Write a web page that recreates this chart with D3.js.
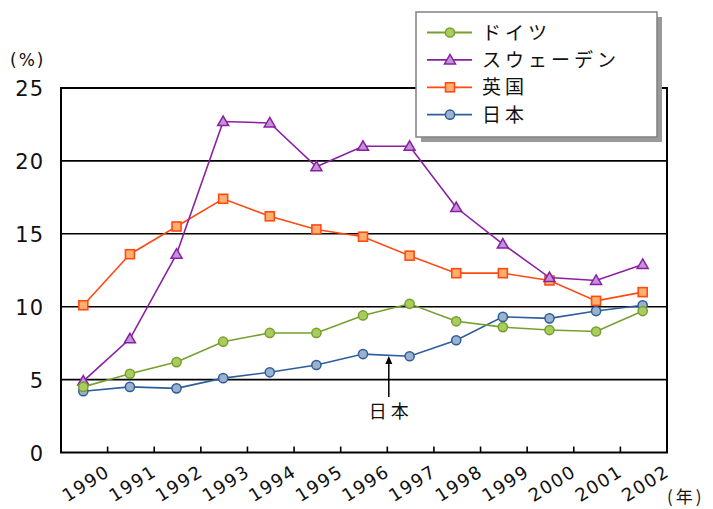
<!DOCTYPE html>
<html><head><meta charset="utf-8">
<script src="https://cdn.jsdelivr.net/npm/d3@7"></script>
<style>
html,body{margin:0;padding:0;background:#fff;}
svg{display:block;}
text{font-family:"DejaVu Sans","Noto Sans CJK JP",sans-serif;fill:#111;}
</style></head>
<body>
<svg id="chart" width="713" height="509"></svg>
<script>
const years = ["1990","1991","1992","1993","1994","1995","1996","1997","1998","1999","2000","2001","2002"];
const germany = [4.5,5.4,6.2,7.6,8.2,8.2,9.4,10.2,9.0,8.6,8.4,8.3,9.7];
const sweden  = [4.9,7.8,13.6,22.7,22.6,19.6,21.0,21.0,16.8,14.3,12.0,11.8,12.9];
const uk      = [10.1,13.6,15.5,17.4,16.2,15.3,14.8,13.5,12.3,12.3,11.8,10.4,11.0];
const japan   = [4.2,4.5,4.4,5.1,5.5,6.0,6.75,6.6,7.7,9.3,9.2,9.7,10.1];
const seriesNames = ["ドイツ","スウェーデン","英国","日本"];
const yTicks = [0,5,10,15,20,25];
const annotationText = "日本";

const series = [
  {name:seriesNames[0], values:germany, stroke:"#76a02e", fill:"#a9cc5e", shape:"circle"},
  {name:seriesNames[1], values:sweden,  stroke:"#8a1fa3", fill:"#c393da", shape:"triangle"},
  {name:seriesNames[2], values:uk,      stroke:"#ff4a12", fill:"#ffb070", shape:"square"},
  {name:seriesNames[3], values:japan,   stroke:"#2c5d9c", fill:"#9cb2cc", shape:"circle"}
];

const L=61, R=667, T=88, B=452.5;
const svg = d3.select("#chart");
const x = d3.scaleBand().domain(years).range([L,R]).padding(0);
const y = d3.scaleLinear().domain([0,25]).range([B,T]);
const cx = d => x(d) + x.bandwidth()/2 - 1;

// gridlines
svg.append("g").selectAll("line").data(yTicks.filter(v=>v>0 && v<25)).join("line")
  .attr("x1",L).attr("x2",R).attr("y1",d=>y(d)).attr("y2",d=>y(d))
  .attr("stroke","#000").attr("stroke-width",1.6);

// plot border
svg.append("rect").attr("x",L).attr("y",T).attr("width",R-L).attr("height",B-T)
  .attr("fill","none").attr("stroke","#000").attr("stroke-width",2);

// x ticks (inward) at category boundaries
svg.append("g").selectAll("line").data(years.slice(1)).join("line")
  .attr("x1",d=>x(d)).attr("x2",d=>x(d)).attr("y1",B).attr("y2",B-6)
  .attr("stroke","#000").attr("stroke-width",1.6);

// y labels
svg.append("g").selectAll("text").data(yTicks).join("text")
  .attr("x",44).attr("y",d=>y(d)+8).attr("text-anchor","end")
  .attr("font-size",21).attr("letter-spacing",1).text(d=>d);
svg.append("text").attr("x",10).attr("y",66).attr("font-size",17).attr("letter-spacing",2).text("(%)");

// x labels
svg.append("g").selectAll("text").data(years).join("text")
  .attr("transform",d=>`translate(${cx(d)+28},${475}) rotate(-32)`)
  .attr("text-anchor","end").attr("font-size",18).attr("letter-spacing",1.5).text(d=>d);
svg.append("text").attr("x",667).attr("y",503).attr("font-size",17).attr("letter-spacing",3)
  .style("font-family","'Noto Sans CJK JP',sans-serif").text("(年)");

function drawMarker(g, shape, px, py, s){
  if(shape==="circle"){
    g.append("circle").attr("cx",px).attr("cy",py).attr("r",4.6)
      .attr("fill",s.fill).attr("stroke",s.stroke).attr("stroke-width",1.5);
  } else if(shape==="square"){
    g.append("rect").attr("x",px-4.5).attr("y",py-4.5).attr("width",9).attr("height",9)
      .attr("fill",s.fill).attr("stroke",s.stroke).attr("stroke-width",1.6);
  } else {
    g.append("path").attr("d",`M${px},${py-5.5}L${px+5.5},${py+4}L${px-5.5},${py+4}Z`)
      .attr("fill",s.fill).attr("stroke",s.stroke).attr("stroke-width",1.5);
  }
}

const line = d3.line().x((d,i)=>cx(years[i])).y(d=>y(d));
// draw order: UK, Sweden, Japan, Germany
[2,1,3,0].forEach(k=>{
  const s = series[k];
  const g = svg.append("g");
  g.append("path").datum(s.values).attr("d",line).attr("fill","none")
    .attr("stroke",s.stroke).attr("stroke-width",1.6);
  s.values.forEach((v,i)=>drawMarker(g,s.shape,cx(years[i]),y(v),s));
});

// annotation
const ax = x("1997") + 1.5;
svg.append("line").attr("x1",ax).attr("x2",ax).attr("y1",397).attr("y2",362)
  .attr("stroke","#000").attr("stroke-width",1.5);
svg.append("path").attr("d",`M${ax},${356}L${ax+3.5},${364}L${ax-3.5},${364}Z`).attr("fill","#000");
svg.append("text").attr("x",ax+2).attr("y",418).attr("text-anchor","middle")
  .attr("font-size",18).attr("letter-spacing",4)
  .style("font-family","'Noto Sans CJK JP',sans-serif").text(annotationText);

// legend
const lg = svg.append("g");
lg.append("rect").attr("x",421).attr("y",17).attr("width",241).attr("height",125).attr("fill","#9a9a9a");
lg.append("rect").attr("x",416).attr("y",12).attr("width",241).attr("height",125)
  .attr("fill","#fff").attr("stroke","#808080").attr("stroke-width",1.5);
series.forEach((s,i)=>{
  const yy = 32.5 + i*27.4;
  lg.append("line").attr("x1",427).attr("x2",472).attr("y1",yy).attr("y2",yy)
    .attr("stroke",s.stroke).attr("stroke-width",1.8);
  drawMarker(lg,s.shape,450,yy,s);
  lg.append("text").attr("x",482).attr("y",yy+7).attr("font-size",19)
    .attr("letter-spacing",4)
    .style("font-family","'Noto Sans CJK JP',sans-serif").text(s.name);
});
</script>
</body></html>
